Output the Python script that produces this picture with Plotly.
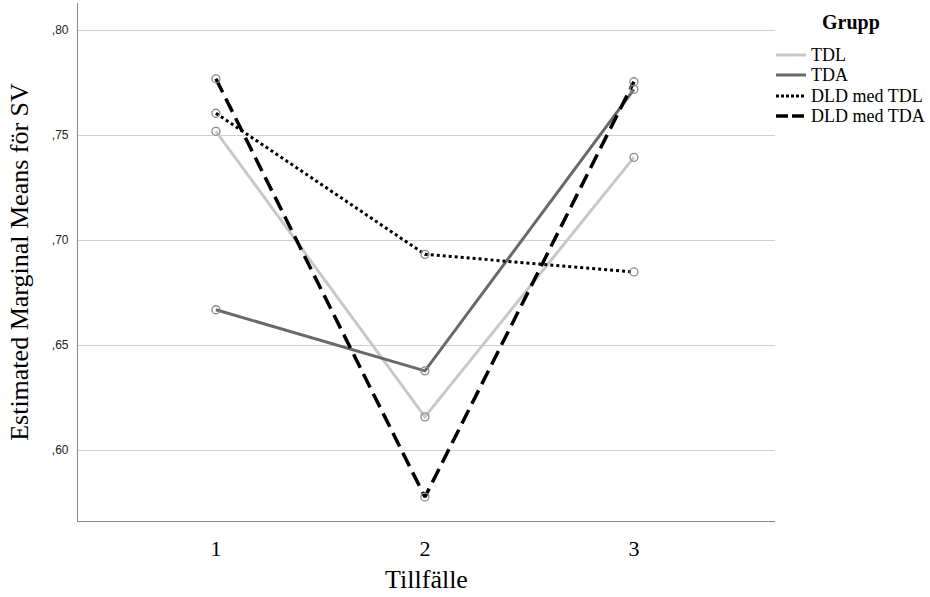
import plotly.graph_objects as go

tillfalle = [1, 2, 3]
groups = ["TDL", "TDA", "DLD med TDL", "DLD med TDA"]
tdl = [0.7518, 0.6158, 0.7394]
tda = [0.6668, 0.6377, 0.7718]
dld_tdl = [0.7604, 0.6932, 0.6848]
dld_tda = [0.7768, 0.5776, 0.7754]
y_ticks = [0.60, 0.65, 0.70, 0.75, 0.80]
y_ticklabels = [",60", ",65", ",70", ",75", ",80"]
x_ticklabels = ["1", "2", "3"]
legend_title = "Grupp"

series = [tdl, tda, dld_tdl, dld_tda]
styles = [
    dict(color="#c8c8c8", width=3, dash="solid"),
    dict(color="#696969", width=3, dash="solid"),
    dict(color="#000000", width=3, dash="3px,3px"),
    dict(color="#000000", width=3.5, dash="15px,7px"),
]

SERIF = "Liberation Serif"
W, H = 930, 597
L, R, T, B = 78, 155, 3, 76
pw, ph = W - L - R, H - T - B


def px_x(px):
    return (px - L) / pw


def px_y(py):
    return (H - B - py) / ph


fig = go.Figure()
for name, vals, st in zip(groups, series, styles):
    fig.add_trace(go.Scatter(x=tillfalle, y=vals, mode="lines", name=name,
                             line=st, showlegend=False))
for name, vals in zip(groups, series):
    fig.add_trace(go.Scatter(x=tillfalle, y=vals, mode="markers", name=name,
                             marker=dict(symbol="circle-open", size=8, color="#8a8a8a",
                                         line=dict(width=1.3, color="#8a8a8a")),
                             showlegend=False, hoverinfo="skip"))

# custom legend (compact, like the reference)
annotations = [dict(text="<b>" + legend_title + "</b>", xref="paper", yref="paper",
                    x=px_x(851), y=px_y(22), xanchor="center", yanchor="middle",
                    showarrow=False, font=dict(size=20, family=SERIF, color="black"))]
shapes = []
item_y = [55, 75, 96, 116]
for name, st, iy in zip(groups, styles, item_y):
    if st["dash"] == "solid":
        sample_dash = "solid"
    elif st["dash"] == "3px,3px":
        sample_dash = "3px,2px"
    else:
        sample_dash = "12px,4px"
    shapes.append(dict(type="line", xref="paper", yref="paper",
                       x0=px_x(776), x1=px_x(806), y0=px_y(iy), y1=px_y(iy),
                       line=dict(color=st["color"], width=st["width"], dash=sample_dash)))
    annotations.append(dict(text=name, xref="paper", yref="paper",
                            x=px_x(809), y=px_y(iy), xanchor="left", yanchor="middle",
                            showarrow=False, font=dict(size=18, family=SERIF, color="black")))

fig.update_layout(
    width=W, height=H,
    margin=dict(l=L, r=R, t=T, b=B),
    plot_bgcolor="white", paper_bgcolor="white",
    font=dict(family=SERIF, color="black"),
    showlegend=False,
    annotations=annotations,
    shapes=shapes,
    xaxis=dict(
        range=[0.34, 3.675], tickvals=tillfalle, ticktext=x_ticklabels,
        showgrid=False, zeroline=False, showline=True, linecolor="#888888", linewidth=1.2,
        ticks="", ticklabelstandoff=7, tickfont=dict(size=22, family=SERIF, color="black"),
        title=dict(text="Tillfälle", font=dict(size=26, family=SERIF, color="black"), standoff=10),
    ),
    yaxis=dict(
        range=[0.5662, 0.8129], tickvals=y_ticks, ticktext=y_ticklabels,
        showgrid=True, gridcolor="#d0d0d0", gridwidth=1.3, zeroline=False,
        showline=True, linecolor="#888888", linewidth=1.2,
        ticks="", ticklabelstandoff=6, tickfont=dict(size=12, family="Liberation Sans", color="#222"),
        title=dict(text="Estimated Marginal Means för SV", font=dict(size=26, family=SERIF, color="black"), standoff=15),
    ),
)

fig.write_html("out.html")
